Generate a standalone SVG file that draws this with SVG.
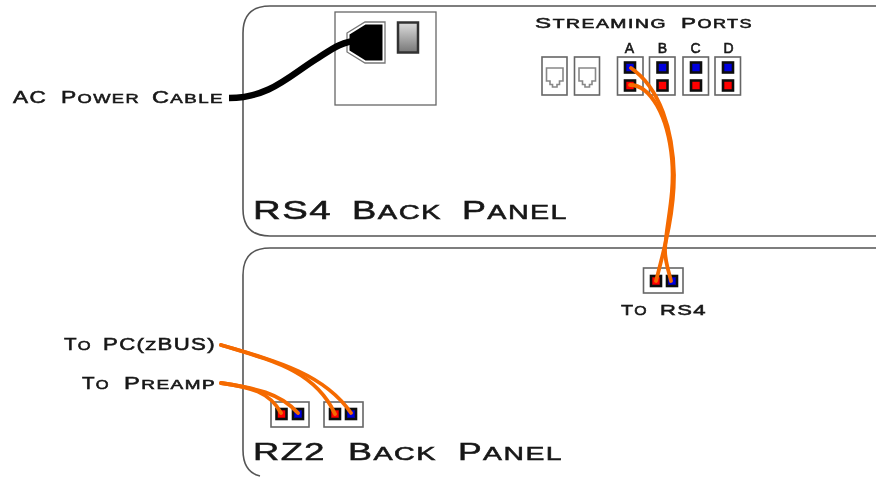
<svg xmlns="http://www.w3.org/2000/svg" width="876" height="477" viewBox="0 0 876 477">
<style>
text{font-family:"Liberation Sans",Arial,sans-serif;fill:#161616;stroke:#161616;stroke-width:.55;letter-spacing:1px}
.panel{fill:none;stroke:#555;stroke-width:1.6}
.box{fill:#fff;stroke:#666;stroke-width:1.6}
.orange{fill:none;stroke:#f56a00;stroke-width:3.8;stroke-linecap:round}
.rj{fill:none;stroke:#888;stroke-width:1.6}
.sq{stroke:#111;stroke-width:2.6}
.r{fill:#f00}.b{fill:#00d}
.s{font-size:.8em}
</style>
<defs>
<linearGradient id="sw" x1="0" y1="0" x2="0" y2="1"><stop offset="0" stop-color="#ddd"/><stop offset="1" stop-color="#777"/></linearGradient>
<filter id="soft" filterUnits="userSpaceOnUse" x="0" y="0" width="876" height="477"><feGaussianBlur stdDeviation="0.4"/></filter>
</defs>
<rect width="876" height="477" fill="#fff"/>
<g filter="url(#soft)">
<g id="rs4-panel">
<path class="panel" d="M880 6H270Q243 6 243 33V209Q243 236 270 236H880"/>
<text x="253" y="219" font-size="25" textLength="79" lengthAdjust="spacingAndGlyphs">RS4</text>
<text x="352" y="219" font-size="25" textLength="90" lengthAdjust="spacingAndGlyphs">B<tspan class="s">ACK</tspan></text>
<text x="462" y="219" font-size="25" textLength="106" lengthAdjust="spacingAndGlyphs">P<tspan class="s">ANEL</tspan></text>
</g>
<g id="rz2-panel">
<path class="panel" d="M880 248H270Q243 248 243 275V450Q243 472 260 476"/>
<text x="253" y="460" font-size="24" textLength="73" lengthAdjust="spacingAndGlyphs">RZ2</text>
<text x="348" y="460" font-size="24" textLength="89" lengthAdjust="spacingAndGlyphs">B<tspan class="s">ACK</tspan></text>
<text x="458" y="460" font-size="24" textLength="105" lengthAdjust="spacingAndGlyphs">P<tspan class="s">ANEL</tspan></text>
</g>
<g id="power-module">
<rect x="335" y="12" width="101" height="93" fill="#fff" stroke="#666" stroke-width="1.3"/>
<polygon points="347,33 365,22 385,22 385,63 365,63 347,52" fill="#fff" stroke="#777" stroke-width="1.3"/>
<polygon points="349.500,34.500 365.500,24.500 382.500,24.500 382.500,60.500 365.500,60.500 349.500,50.500" fill="#000"/>
<rect x="398" y="22.500" width="20" height="30" fill="url(#sw)" stroke="#333" stroke-width="2.500"/>
</g>
<g id="streaming-ports">
<text x="535" y="28" font-size="15.500" textLength="132" lengthAdjust="spacingAndGlyphs">S<tspan class="s">TREAMING</tspan></text>
<text x="681" y="28" font-size="15.500" textLength="72" lengthAdjust="spacingAndGlyphs">P<tspan class="s">ORTS</tspan></text>
<text x="630" y="52.500" font-size="14" text-anchor="middle">A</text>
<text x="663" y="52.500" font-size="14" text-anchor="middle">B</text>
<text x="696" y="52.500" font-size="14" text-anchor="middle">C</text>
<text x="729" y="52.500" font-size="14" text-anchor="middle">D</text>
<rect class="box" x="542" y="57" width="25" height="38"/>
<rect class="box" x="574.500" y="57" width="25" height="38"/>
<path class="rj" d="M546.500 68H563V81H559.500V84.500H557V87H552.500V84.500H550V81H546.500Z"/>
<path class="rj" d="M579 68H595.500V81H592V84.500H589.500V87H585V84.500H582.500V81H579Z"/>
<rect class="box" x="617.500" y="57" width="25.500" height="38"/>
<rect class="box" x="649.500" y="57" width="25.500" height="38"/>
<rect class="box" x="683" y="57" width="25.500" height="38"/>
<rect class="box" x="715" y="57" width="25.500" height="38"/>
<rect class="sq b" x="625" y="62.500" width="10" height="10"/><rect class="sq r" x="625" y="80.500" width="10" height="10"/>
<rect class="sq b" x="657.500" y="62.500" width="10" height="10"/><rect class="sq r" x="657.500" y="80.500" width="10" height="10"/>
<rect class="sq b" x="691" y="62.500" width="10" height="10"/><rect class="sq r" x="691" y="80.500" width="10" height="10"/>
<rect class="sq b" x="723" y="62.500" width="10" height="10"/><rect class="sq r" x="723" y="80.500" width="10" height="10"/>
</g>
<g id="to-rs4">
<rect class="box" x="643.500" y="268" width="39.500" height="25"/>
<rect class="sq r" x="651" y="276" width="10" height="10"/><rect class="sq b" x="667" y="276" width="10" height="10"/>
<text x="621" y="315" font-size="15.500" textLength="27" lengthAdjust="spacingAndGlyphs">T<tspan class="s">O</tspan></text>
<text x="660" y="315" font-size="15.500" textLength="47" lengthAdjust="spacingAndGlyphs">RS4</text>
</g>
<g id="rz2-ports">
<rect class="box" x="271" y="402" width="38" height="25"/>
<rect class="box" x="324" y="402" width="39" height="25"/>
<rect class="sq r" x="276.500" y="409" width="10" height="10"/><rect class="sq b" x="293" y="409" width="10" height="10"/>
<rect class="sq r" x="330" y="409" width="10" height="10"/><rect class="sq b" x="346" y="409" width="10" height="10"/>
</g>
<g id="labels">
<text x="13" y="103" font-size="16.500" textLength="34" lengthAdjust="spacingAndGlyphs">AC</text>
<text x="61" y="103" font-size="16.500" textLength="79" lengthAdjust="spacingAndGlyphs">P<tspan class="s">OWER</tspan></text>
<text x="152" y="103" font-size="16.500" textLength="72" lengthAdjust="spacingAndGlyphs">C<tspan class="s">ABLE</tspan></text>
<text x="64" y="350" font-size="16" textLength="28" lengthAdjust="spacingAndGlyphs">T<tspan class="s">O</tspan></text>
<text x="103" y="350" font-size="16" textLength="113" lengthAdjust="spacingAndGlyphs">PC(<tspan class="s">Z</tspan>BUS)</text>
<text x="82" y="389" font-size="16" textLength="28" lengthAdjust="spacingAndGlyphs">T<tspan class="s">O</tspan></text>
<text x="124" y="389" font-size="16" textLength="92" lengthAdjust="spacingAndGlyphs">P<tspan class="s">REAMP</tspan></text>
</g>
<g id="connectors">
<path d="M229 98C270 98 290 75 318 58C332 49 340 42 360 40" fill="none" stroke="#000" stroke-width="6.500"/>
<path class="orange" d="M631 68C660 88 673 130 674 175C674 215 664 250 656 281"/>
<path class="orange" d="M630 85C650 85 668 115 672 160C675 195 666 225 665 250C665 262 669 272 671 281"/>
<path class="orange" d="M221 345C270 360 315 370 335 414"/>
<path class="orange" d="M221 345C280 362 325 375 351 413"/>
<path class="orange" d="M221 383C250 387 270 392 281 413"/>
<path class="orange" d="M221 383C255 388 280 393 298 413"/>
</g>
</g>
</svg>
